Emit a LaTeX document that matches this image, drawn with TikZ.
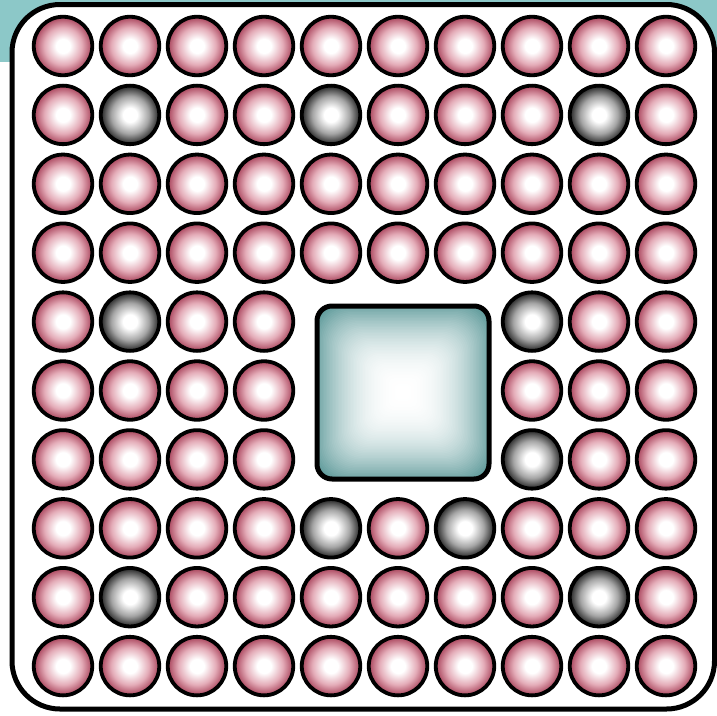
\documentclass[tikz,border=0pt]{standalone}
\usetikzlibrary{calc}
\definecolor{tealbg}{RGB}{140,200,200}
\definecolor{tealedge}{RGB}{95,155,155}
\definecolor{pinkedge}{RGB}{168,66,90}
\definecolor{pinkmid}{RGB}{228,172,184}
\definecolor{greyedge}{RGB}{35,35,35}
\definecolor{greymid}{RGB}{165,165,165}
\pgfdeclareradialshading{pinkball}{\pgfpoint{0bp}{0bp}}{color(0bp)=(white); color(6bp)=(white); color(16bp)=(pinkmid); color(25bp)=(pinkedge); color(50bp)=(pinkedge)}
\pgfdeclareradialshading{greyball}{\pgfpoint{0bp}{0bp}}{color(0bp)=(white); color(6bp)=(white); color(16bp)=(greymid); color(25bp)=(greyedge); color(50bp)=(greyedge)}
\tikzset{
  ball/.style={circle, minimum size=58.5pt, inner sep=0pt, draw=black, line width=3.8pt, shading=pinkball},
  darkball/.style={ball, shading=greyball},
  frame/.style={draw=black, line width=5pt, rounded corners=48pt, fill=white},
}
\begin{document}
\begin{tikzpicture}[x=1pt,y=-1pt]
\useasboundingbox (0,0) rectangle (717,715);
\fill[tealbg] (0,0) rectangle (717,62);
\draw[frame] (12,4.5) rectangle (714.5,709);
% balls
\foreach \r in {0,...,9}{
  \foreach \c in {0,...,9}{
    \pgfmathsetmacro{\xx}{63+67*\c}
    \pgfmathsetmacro{\yy}{46+68.9*\r}
    \def\kind{ball}
    \ifnum\r=1 \ifnum\c=1 \def\kind{darkball}\fi \ifnum\c=4 \def\kind{darkball}\fi \ifnum\c=8 \def\kind{darkball}\fi\fi
    \ifnum\r=4 \ifnum\c=1 \def\kind{darkball}\fi \ifnum\c=7 \def\kind{darkball}\fi\fi
    \ifnum\r=6 \ifnum\c=7 \def\kind{darkball}\fi\fi
    \ifnum\r=7 \ifnum\c=4 \def\kind{darkball}\fi \ifnum\c=6 \def\kind{darkball}\fi\fi
    \ifnum\r=8 \ifnum\c=1 \def\kind{darkball}\fi \ifnum\c=8 \def\kind{darkball}\fi\fi
    \def\skip{0}
    \ifnum\r>3 \ifnum\r<7 \ifnum\c>3 \ifnum\c<7 \def\skip{1}\fi\fi\fi\fi
    \if0\skip
      \node[\kind] (b\r\c) at (\xx,\yy) {};
    \fi
  }
}
% central die with square glow
\begin{scope}
  \clip[rounded corners=15pt] (317,306) rectangle (489,479);
  \foreach \i in {0,...,60}{
    \pgfmathsetmacro{\t}{\i/60}
    \pgfmathsetmacro{\pc}{100*(1-\t)^2.3}
    \pgfmathsetmacro{\h}{90*(1-\t)+1}
    \pgfmathsetmacro{\rc}{0.35*\h+1}
    \fill[tealedge!\pc!white, rounded corners=\rc pt] (403-\h,392.5-\h) rectangle (403+\h,392.5+\h);
  }
\end{scope}
\node[draw=black, line width=5pt, rounded corners=15pt, minimum width=172pt, minimum height=173pt, inner sep=0pt] (die) at (403,392.5) {};
\end{tikzpicture}
\end{document}
